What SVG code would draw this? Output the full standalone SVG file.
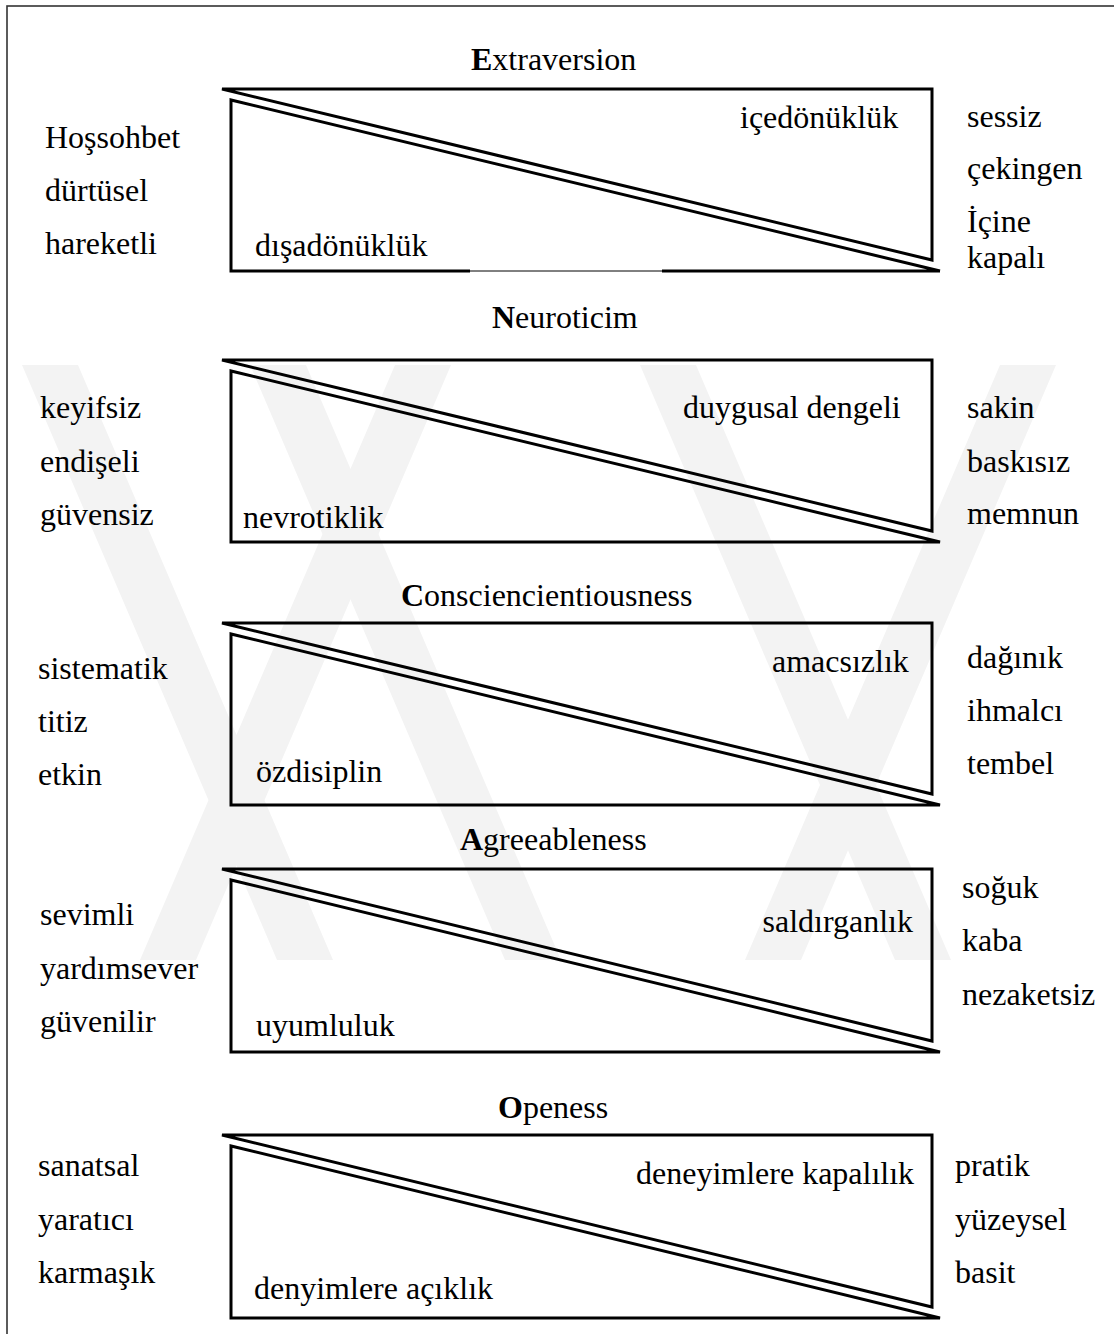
<svg xmlns="http://www.w3.org/2000/svg" width="1114" height="1334" viewBox="0 0 1114 1334">
<style>
text{font-family:"Liberation Serif","Times New Roman",serif;font-size:32px;fill:#000}
.ttl tspan.b{font-weight:bold}
.ln{fill:none;stroke:#000;stroke-width:3;stroke-linejoin:miter;stroke-miterlimit:4}
.wm{fill:#f3f3f3}
</style>
<rect width="1114" height="1334" fill="#fff"/>
<g id="watermark">
<polygon class="wm" points="22,365 78,365 333,960 277,960"/>
<polygon class="wm" points="250,365 306,365 561,960 505,960"/>
<polygon class="wm" points="140,960 196,960 451,365 395,365"/>
<polygon class="wm" points="640,365 696,365 951,960 895,960"/>
<polygon class="wm" points="745,960 801,960 1056,365 1000,365"/>
</g>
<rect id="frame" x="7" y="6" width="1130" height="1360" fill="none" stroke="#333" stroke-width="1.6"/>
<g id="connectors">
<path class="ln" d="M222,89 L932,89 L932,260 Z"/>
<path class="ln" d="M940,271 L231,100 L231,271 L470,271 M662,271 L940,271"/>
<path d="M470,271 L662,271" stroke="#000" stroke-width="1"/>
<path class="ln" d="M222,360 L932,360 L932,531 Z"/>
<path class="ln" d="M231,371 L231,542 L940,542 Z"/>
<path class="ln" d="M222,623 L932,623 L932,794 Z"/>
<path class="ln" d="M231,634 L231,805 L940,805 Z"/>
<path class="ln" d="M222,869 L932,869 L932,1041 Z"/>
<path class="ln" d="M231,880 L231,1052 L940,1052 Z"/>
<path class="ln" d="M222,1135 L932,1135 L932,1307 Z"/>
<path class="ln" d="M231,1146 L231,1318 L940,1318 Z"/>
</g>
<g id="extraversion">
<text class="ttl" x="471" y="70"><tspan class="b">E</tspan>xtraversion</text>
<text x="45" y="148">Hoşsohbet</text>
<text x="45" y="201">dürtüsel</text>
<text x="45" y="254">hareketli</text>
<text x="740" y="128">içedönüklük</text>
<text x="255" y="256">dışadönüklük</text>
<text x="967" y="127">sessiz</text>
<text x="967" y="179">çekingen</text>
<text x="967" y="232">İçine</text>
<text x="967" y="268">kapalı</text>
</g>
<g id="neuroticim">
<text class="ttl" x="492" y="328"><tspan class="b">N</tspan>euroticim</text>
<text x="40" y="418">keyifsiz</text>
<text x="40" y="472">endişeli</text>
<text x="40" y="525">güvensiz</text>
<text x="683" y="418">duygusal dengeli</text>
<text x="243" y="528">nevrotiklik</text>
<text x="967" y="418">sakin</text>
<text x="967" y="472">baskısız</text>
<text x="967" y="524">memnun</text>
</g>
<g id="conscientiousness">
<text class="ttl" x="401" y="606"><tspan class="b">C</tspan>onsciencientiousness</text>
<text x="38" y="679">sistematik</text>
<text x="38" y="732">titiz</text>
<text x="38" y="785">etkin</text>
<text x="772" y="672">amacsızlık</text>
<text x="256" y="782">özdisiplin</text>
<text x="967" y="668">dağınık</text>
<text x="967" y="721">ihmalcı</text>
<text x="967" y="774">tembel</text>
</g>
<g id="agreeableness">
<text class="ttl" x="460" y="850"><tspan class="b">A</tspan>greeableness</text>
<text x="40" y="925">sevimli</text>
<text x="40" y="979">yardımsever</text>
<text x="40" y="1032">güvenilir</text>
<text x="913" y="932" text-anchor="end">saldırganlık</text>
<text x="256" y="1036">uyumluluk</text>
<text x="962" y="898">soğuk</text>
<text x="962" y="951">kaba</text>
<text x="962" y="1005">nezaketsiz</text>
</g>
<g id="openess">
<text class="ttl" x="498" y="1118"><tspan class="b">O</tspan>peness</text>
<text x="38" y="1176">sanatsal</text>
<text x="38" y="1230">yaratıcı</text>
<text x="38" y="1283">karmaşık</text>
<text x="636" y="1184">deneyimlere kapalılık</text>
<text x="254" y="1299">denyimlere açıklık</text>
<text x="955" y="1176">pratik</text>
<text x="955" y="1230">yüzeysel</text>
<text x="955" y="1283">basit</text>
</g>
</svg>
